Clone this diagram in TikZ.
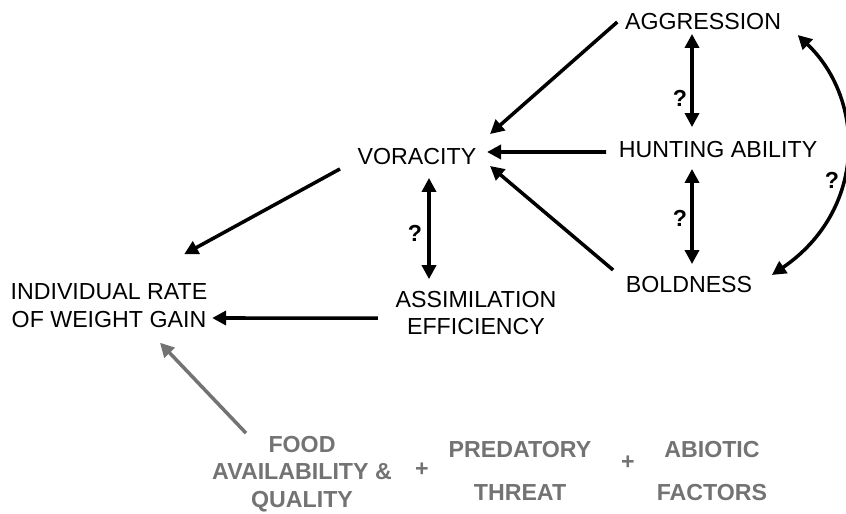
\documentclass[tikz,border=0pt]{standalone}
\usepackage{fontspec}
\setmainfont{Liberation Sans}
\usetikzlibrary{arrows.meta}
\definecolor{factorgray}{RGB}{115,115,115}

\begin{document}
\begin{tikzpicture}[trait/.style={inner sep=2pt, align=center, font=\fontsize{6.6}{7.9}\selectfont},
  factor/.style={trait, text=factorgray, font=\fontsize{6.6}{7.9}\selectfont\bfseries},
  query/.style={inner sep=1pt, font=\fontsize{6.6}{7.9}\selectfont\bfseries},
  link/.style={-{Triangle[length=0.14cm,width=0.14cm]}, line width=1pt},
  both/.style={{Triangle[length=0.14cm,width=0.14cm]}-{Triangle[length=0.14cm,width=0.14cm]}, line width=1pt}]

  \useasboundingbox (0,0) rectangle (8.46,5.13);

  % Behaviour column
  \node[trait] (aggr) at (7.03,4.91) {AGGRESSION};
  \node[trait] (hunt) at (7.18,3.63) {HUNTING ABILITY};
  \node[trait] (bold) at (6.89,2.28) {BOLDNESS};

  % Middle
  \node[trait] (vora) at (4.17,3.56) {VORACITY};
  \node[trait] (assim) at (4.76,2.00) {ASSIMILATION\\EFFICIENCY};
  \node[trait] (gain) at (1.09,2.07) {INDIVIDUAL RATE\\OF WEIGHT GAIN};

  % Environment
  \node[factor] (food) at (3.02,0.39) {FOOD\\AVAILABILITY \&\\QUALITY};
  \node[factor] (plus1) at (4.22,0.43) {+};
  \node[factor] (pred) at (5.20,0.42) {PREDATORY\\[4.3pt]THREAT};
  \node[factor] (plus2) at (6.28,0.50) {+};
  \node[factor] (abio) at (7.12,0.42) {ABIOTIC\\[4.3pt]FACTORS};

  % Question marks
  \node[query] (q1) at (4.15,2.80) {?};
  \node[query] (q2) at (6.80,4.15) {?};
  \node[query] (q3) at (6.80,2.95) {?};
  \node[query] (q4) at (8.32,3.33) {?};

  % Arrows into voracity
  \draw[link] (aggr.west) -- ([shift={(0.06,0.07)}]vora.north east);
  \draw[link] ([shift={(-0.05,-0.02)}]hunt.west) -- ([shift={(0.03,0.05)}]vora.east);
  \draw[link] ([shift={(-0.05,0.15)}]bold.west) -- ([shift={(0.06,0.07)}]vora.south east);

  % Arrows into weight gain
  \draw[link] ([shift={(-0.1,0.04)}]vora.south west) -- ([shift={(-0.31,0.22)}]gain.north east);
  \draw[link] ([shift={(-0.1,-0.05)}]assim.west) -- ([shift={(-0.03,-0.12)}]gain.east);
  \draw[link, factorgray] ([shift={(-0.56,-0.05)}]food.north) -- ([shift={(0.51,-0.07)}]gain.south);

  % Double-headed
  \draw[both] ([shift={(0.12,-0.05)}]vora.south) -- ([shift={(0.12,0.04)}]vora.south |- assim.north);
  \draw[both] ([shift={(-0.11,0.04)}]aggr.south) -- ([shift={(-0.11,0.07)}]aggr.south |- hunt.north);
  \draw[both] ([shift={(-0.26,-0.03)}]hunt.south) -- ([shift={(-0.26,0.05)}]hunt.south |- bold.north);
  \draw[both] ([shift={(0.09,-0.13)}]aggr.east) .. controls +(0.68,-0.65) and +(0.95,0.65) .. ([shift={(0.12,0.10)}]bold.east);

\end{tikzpicture}
\end{document}
